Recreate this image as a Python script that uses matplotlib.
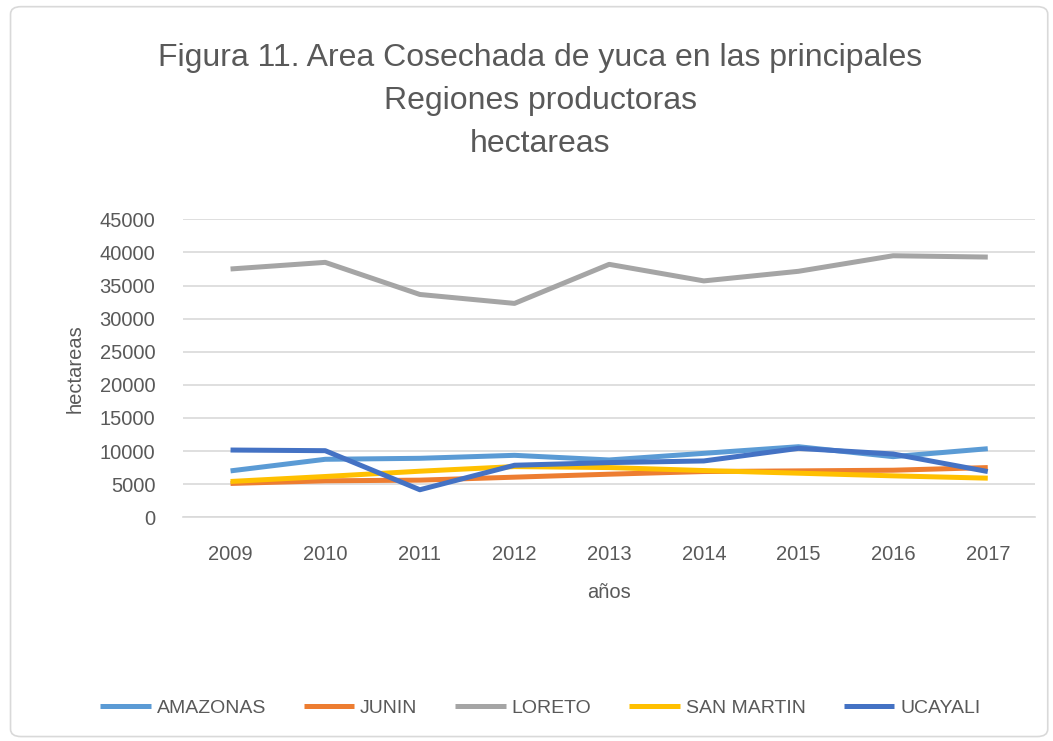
import matplotlib
matplotlib.use("Agg")
import matplotlib.pyplot as plt
from matplotlib.patches import FancyBboxPatch

plt.rcParams['font.family'] = ['Liberation Sans Narrow', 'Liberation Sans', 'DejaVu Sans']

years = ["2009", "2010", "2011", "2012", "2013", "2014", "2015", "2016", "2017"]
amazonas = [7000, 8750, 8900, 9350, 8650, 9650, 10650, 9150, 10350]
junin = [5100, 5500, 5600, 6050, 6500, 6900, 7000, 7100, 7500]
loreto = [37500, 38500, 33650, 32300, 38200, 35700, 37150, 39500, 39300]
san_martin = [5400, 6150, 6950, 7650, 7500, 7050, 6650, 6250, 5900]
ucayali = [10150, 10050, 4150, 7850, 8250, 8500, 10400, 9550, 6900]

series = [("AMAZONAS", amazonas, "#5B9BD5"),
          ("JUNIN", junin, "#ED7D31"),
          ("LORETO", loreto, "#A5A5A5"),
          ("SAN MARTIN", san_martin, "#FFC000"),
          ("UCAYALI", ucayali, "#4472C4")]

fig = plt.figure(figsize=(10.53, 7.41), dpi=100)
ax = fig.add_axes([0.174, 0.302, 0.809, 0.402])

x = list(range(len(years)))
for name, vals, col in series:
    ax.plot(x, vals, color=col, lw=3.6, label=name, solid_capstyle='butt')

ax.set_xlim(-0.5, len(years) - 0.5)
ax.set_ylim(0, 45000)
ax.set_yticks(range(0, 45001, 5000))
ax.set_xticks(x)
ax.set_xticklabels(years)
ax.grid(axis='y', color='#D9D9D9', lw=1.2)
ax.set_axisbelow(True)
for s in ['top', 'right', 'left']:
    ax.spines[s].set_visible(False)
ax.spines['bottom'].set_color('#D9D9D9')
ax.spines['bottom'].set_linewidth(1.2)
ax.tick_params(axis='both', length=0, labelsize=14.5, labelcolor='#595959')
ax.tick_params(axis='x', pad=20)
ax.tick_params(axis='y', pad=20)
ax.set_xlabel("años", fontsize=14.5, color='#595959', labelpad=14)
ax.set_ylabel("hectareas", fontsize=14.5, color='#595959', labelpad=11)

fig.text(0.513, 0.922, "Figura 11. Area Cosechada de yuca en las principales",
         ha='center', va='center', fontsize=23, color='#595959')
fig.text(0.513, 0.864, "Regiones productoras", ha='center', va='center',
         fontsize=23, color='#595959')
fig.text(0.513, 0.806, "hectareas", ha='center', va='center',
         fontsize=23, color='#595959')

fig.legend(loc='center', bbox_to_anchor=(0.513, 0.044), ncol=5, frameon=False,
           fontsize=14, labelcolor='#595959', handlelength=2.6, columnspacing=1.95,
           handletextpad=0.3)

fig.patches.append(FancyBboxPatch((0.01, 0.006), 0.985, 0.985, boxstyle="round,pad=0,rounding_size=0.01",
                                  transform=fig.transFigure, fill=False,
                                  edgecolor='#D9D9D9', lw=1.2))

fig.savefig("out.png", dpi=100)
